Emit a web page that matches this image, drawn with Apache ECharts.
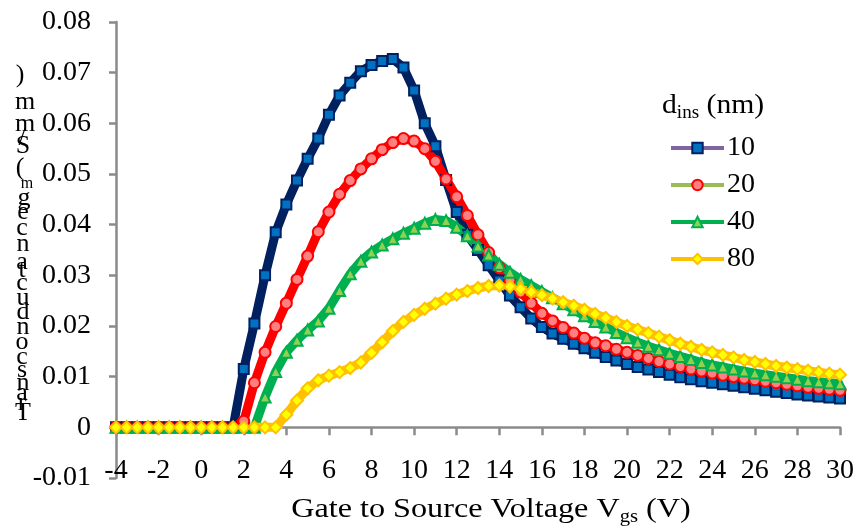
<!DOCTYPE html>
<html>
<head>
<meta charset="utf-8">
<script src="https://cdn.jsdelivr.net/npm/echarts@6/dist/echarts.min.js"></script>
<style>
html,body{margin:0;padding:0;background:#fff;}
#chart{width:859px;height:528px;}
</style>
</head>
<body>
<div id="chart"></div>
<script>
// ---- data ----
const vgs = [-4,-3.5,-3,-2.5,-2,-1.5,-1,-0.5,0,0.5,1,1.5,2,2.5,3,3.5,4,4.5,5,5.5,6,6.5,7,7.5,8,8.5,9,9.5,10,10.5,11,11.5,12,12.5,13,13.5,14,14.5,15,15.5,16,16.5,17,17.5,18,18.5,19,19.5,20,20.5,21,21.5,22,22.5,23,23.5,24,24.5,25,25.5,26,26.5,27,27.5,28,28.5,29,29.5,30];

const gm10 = [0,0,0,0,0,0,0,0,0,0,0,0,0.0115,0.0205,0.030,0.0385,0.044,0.0487,0.053,0.057,0.0617,0.0655,0.068,0.0703,0.0715,0.0723,0.0727,0.071,0.0665,0.060,0.0555,0.0488,0.0425,0.038,0.035,0.032,0.029,0.026,0.0237,0.0215,0.0198,0.0185,0.0175,0.0165,0.0156,0.0147,0.0139,0.0132,0.0125,0.0119,0.0114,0.0109,0.0104,0.0099,0.0095,0.0091,0.0088,0.0085,0.0082,0.0079,0.0076,0.0073,0.0070,0.0068,0.0065,0.0063,0.0061,0.0059,0.0057];

const gm20 = [0,0,0,0,0,0,0,0,0,0,0,0,0.0012,0.0088,0.0148,0.0199,0.0245,0.0292,0.0338,0.0386,0.0425,0.046,0.0487,0.051,0.053,0.0548,0.0562,0.057,0.0565,0.055,0.0525,0.049,0.0455,0.0418,0.038,0.0345,0.0315,0.029,0.0267,0.0245,0.0225,0.021,0.0197,0.0186,0.0176,0.0167,0.0161,0.0154,0.0148,0.0142,0.0136,0.013,0.0125,0.012,0.0115,0.0111,0.0107,0.0103,0.0100,0.0097,0.0094,0.0091,0.0088,0.0085,0.0082,0.0079,0.0077,0.0075,0.0073];

const gm40 = [0,0,0,0,0,0,0,0,0,0,0,0,0,0,0.006,0.011,0.0148,0.0172,0.0192,0.021,0.0235,0.027,0.0303,0.0328,0.0346,0.036,0.0372,0.0383,0.0393,0.0403,0.041,0.0408,0.0395,0.0378,0.0358,0.034,0.0322,0.0306,0.0292,0.028,0.0268,0.0256,0.0244,0.0232,0.022,0.0209,0.0198,0.0187,0.0177,0.0168,0.016,0.0153,0.0146,0.014,0.0134,0.0128,0.0123,0.0119,0.0115,0.0111,0.0107,0.0104,0.0101,0.0098,0.0095,0.0092,0.0090,0.0088,0.0086];

const gm80 = [0,0,0,0,0,0,0,0,0,0,0,0,0,0,0,0,0.0025,0.0053,0.0077,0.0093,0.0102,0.0109,0.0117,0.0128,0.0147,0.0168,0.019,0.0208,0.0222,0.0234,0.0244,0.0254,0.0262,0.0269,0.0275,0.0279,0.028,0.0278,0.0273,0.0267,0.0261,0.0254,0.0247,0.024,0.0232,0.0224,0.0216,0.0208,0.020,0.0193,0.0186,0.0179,0.0172,0.0165,0.0159,0.0153,0.0148,0.0143,0.0138,0.0133,0.0129,0.0125,0.0121,0.0118,0.0115,0.0112,0.0109,0.0106,0.0104];

const seriesNames = ['10','20','40','80'];
const xTickLabels = ['-4','-2','0','2','4','6','8','10','12','14','16','18','20','22','24','26','28','30'];
const xTicks = {min:-4, max:30, step:2};
const yTicks = {min:-0.01, max:0.08, step:0.01};
const yTitleChars = [')','m','m','/','S','(','m','g','e','c','n','a','t','c','u','d','n','o','c','s','n','a','r','T'];

// ---- styles ----
const FONT = '"Liberation Serif","Times New Roman",serif';
const styles = [
  {symbol:'rect', fill:'#0070C0', border:'#002060', legendLine:'#8064A2', size:10},
  {symbol:'circle', fill:'#FF8080', border:'#FF0000', legendLine:'#9BBB59', size:11},
  {symbol:'triangle', fill:'#92D050', border:'#00B050', legendLine:'#00B050', size:11},
  {symbol:'diamond', fill:'#FFFF00', border:'#FFC000', legendLine:'#FFC000', size:12}
];
const allData = [gm10, gm20, gm40, gm80];

const series = allData.map((ys, i) => ({
  name: seriesNames[i],
  type: 'line',
  data: vgs.map((x, k) => [x, ys[k]]),
  symbol: styles[i].symbol,
  symbolSize: styles[i].size,
  showAllSymbol: true,
  lineStyle: {color: styles[i].border, width: 9},
  itemStyle: {color: styles[i].fill, borderColor: styles[i].border, borderWidth: 2},
  emphasis: {disabled: true},
  clip: false
}));

// stacked (broken) y-axis title, as in the reference
const yTitlePos = [75,102,124,138,146,168,184,198,212,228,244,262,270,283,298,312,327,342,357,370,383,393,403,413];
const yTitleX =   [20,25,25,22,23,20,27,24,23,22,23,22,22,22,23,23,23,22,22,22,23,22,22,23];
const yTitleGraphics = yTitleChars.map((c, i) => ({
  type: 'text', id: 'yt' + i,
  x: yTitleX[i], y: yTitlePos[i],
  style: {
    text: c,
    font: (i === 6 ? '16px ' : '26px ') + FONT,
    fill: '#000',
    align: 'center',
    verticalAlign: 'middle'
  },
  z: 100
}));

const chart = echarts.init(document.getElementById('chart'), null, {renderer: 'canvas'});
chart.setOption({
  animation: false,
  backgroundColor: '#fff',
  grid: {left: 116, right: 19, top: 22, bottom: 50, containLabel: false, outerBoundsMode: 'none'},
  xAxis: {
    type: 'value',
    min: xTicks.min, max: xTicks.max, interval: xTicks.step,
    axisLine: {show: true, onZero: false, lineStyle: {color: '#8a8a8a', width: 2.5}},
    axisTick: {show: true, length: 8, lineStyle: {color: '#8a8a8a', width: 2.5}},
    axisLabel: {show: false},
    splitLine: {show: false}
  },
  yAxis: {
    type: 'value',
    min: yTicks.min, max: yTicks.max, interval: yTicks.step,
    axisLine: {show: true, onZero: false, lineStyle: {color: '#8a8a8a', width: 2.5}},
    axisTick: {show: true, length: 7, lineStyle: {color: '#8a8a8a', width: 2.5}},
    axisLabel: {margin: 25, color: '#000', fontFamily: FONT, fontSize: 28,
      formatter: v => Math.abs(v) < 1e-9 ? '0' : v.toFixed(2)},
    splitLine: {show: false}
  },
  legend: {
    orient: 'vertical',
    left: 669, top: 134, padding: 0,
    itemWidth: 53, itemHeight: 13,
    itemGap: 9,
    selectedMode: false,
    textStyle: {fontFamily: FONT, fontSize: 28, color: '#000', lineHeight: 28, padding: [0,0,0,-2]},
    data: seriesNames.map((n, i) => ({
      name: n,
      lineStyle: {color: styles[i].legendLine, width: 4},
      itemStyle: {color: styles[i].fill, borderColor: styles[i].border, borderWidth: 2}
    }))
  },
  graphic: [
    {
      type: 'text', id: 'xtitle', x: 491, y: 510, z: 100, scaleX: 1.15,
      style: {
        text: 'Gate to Source Voltage V{sub|gs} (V)',
        font: '28px ' + FONT, fill: '#000', align: 'center', verticalAlign: 'middle',
        rich: {sub: {fontSize: 18, fontFamily: FONT, verticalAlign: 'bottom', lineHeight: 32, padding: [14,0,0,0]}}
      }
    },
    {
      type: 'text', id: 'legtitle', x: 662, y: 106, z: 100, scaleX: 1.06,
      style: {
        text: 'd{sub|ins} (nm)',
        font: '28px ' + FONT, fill: '#000', align: 'left', verticalAlign: 'middle',
        rich: {sub: {fontSize: 18, fontFamily: FONT, verticalAlign: 'bottom', lineHeight: 32, padding: [14,0,0,0]}}
      }
    }
  ].concat(yTitleGraphics),
  series: series
});

// horizontal axis line crosses at y = 0 (as in the Excel original); tick labels stay at the bottom ("low")
const zeroPx = chart.convertToPixel({yAxisIndex: 0}, 0);
const bottomPx = chart.convertToPixel({yAxisIndex: 0}, yTicks.min);
chart.setOption({xAxis: {offset: -(bottomPx - zeroPx)}});

const labelY = bottomPx - 7;
const xLabelGraphics = xTickLabels.map((t, i) => ({
  type: 'text', id: 'xl' + i,
  x: chart.convertToPixel({xAxisIndex: 0}, Number(t)),
  y: labelY,
  style: {text: t, font: '28px ' + FONT, fill: '#000', align: 'center', verticalAlign: 'middle'},
  z: 100
}));
chart.setOption({graphic: xLabelGraphics});
</script>
</body>
</html>
